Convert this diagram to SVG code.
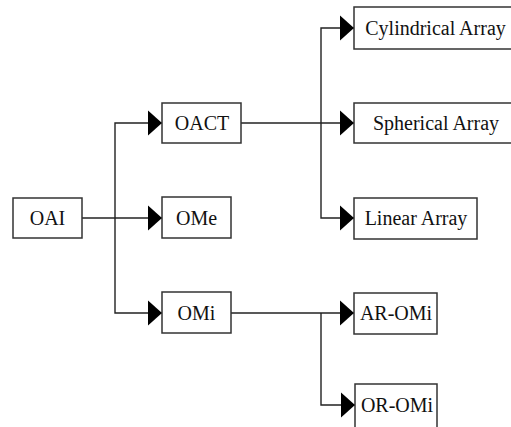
<svg xmlns="http://www.w3.org/2000/svg" width="511" height="427" viewBox="0 0 511 427">
  <style>
    .box { fill: #ffffff; stroke: #333333; stroke-width: 1.5; }
    .lbl { font-family: "Liberation Serif", "DejaVu Serif", serif; font-size: 20px; fill: #111111; text-anchor: middle; }
    .conn { fill: none; stroke: #222222; stroke-width: 1.4; }
  </style>
  <defs>
    <marker id="arr" markerUnits="userSpaceOnUse" markerWidth="16" markerHeight="28" refX="14" refY="13" orient="auto">
      <polygon points="0,0.5 14,13 0,25.5" fill="#000000"/>
    </marker>
  </defs>
  <rect width="511" height="427" fill="#ffffff"/>
  <g id="connectors">
    <path class="conn" d="M82,218 H162" marker-end="url(#arr)"/>
    <path class="conn" d="M115,218 V123 H162" marker-end="url(#arr)"/>
    <path class="conn" d="M115,218 V313 H162" marker-end="url(#arr)"/>
    <path class="conn" d="M241,123 H354" marker-end="url(#arr)"/>
    <path class="conn" d="M321,123 V28 H354" marker-end="url(#arr)"/>
    <path class="conn" d="M321,123 V218 H354" marker-end="url(#arr)"/>
    <path class="conn" d="M231,313 H354" marker-end="url(#arr)"/>
    <path class="conn" d="M321,313 V405 H355" marker-end="url(#arr)"/>
  </g>
  <g id="oai"><rect class="box" x="13" y="198" width="69" height="40"/><text class="lbl" x="47.5" y="225">OAI</text></g>
  <g id="oact"><rect class="box" x="162" y="103" width="79" height="40"/><text class="lbl" x="202" y="130">OACT</text></g>
  <g id="ome"><rect class="box" x="162" y="197" width="69" height="41"/><text class="lbl" x="196.5" y="225">OMe</text></g>
  <g id="omi"><rect class="box" x="162" y="292" width="69" height="41"/><text class="lbl" x="196.5" y="320">OMi</text></g>
  <g id="cylindrical"><rect class="box" x="354" y="7" width="165" height="42"/><text class="lbl" x="435.5" y="35">Cylindrical Array</text></g>
  <g id="spherical"><rect class="box" x="354" y="103" width="165" height="40"/><text class="lbl" x="436" y="130">Spherical Array</text></g>
  <g id="linear"><rect class="box" x="354" y="198" width="123" height="41"/><text class="lbl" x="416" y="225">Linear Array</text></g>
  <g id="ar-omi"><rect class="box" x="354" y="293" width="83" height="41"/><text class="lbl" x="396" y="320">AR-OMi</text></g>
  <g id="or-omi"><rect class="box" x="355" y="384" width="82" height="50"/><text class="lbl" x="397" y="412">OR-OMi</text></g>
</svg>
